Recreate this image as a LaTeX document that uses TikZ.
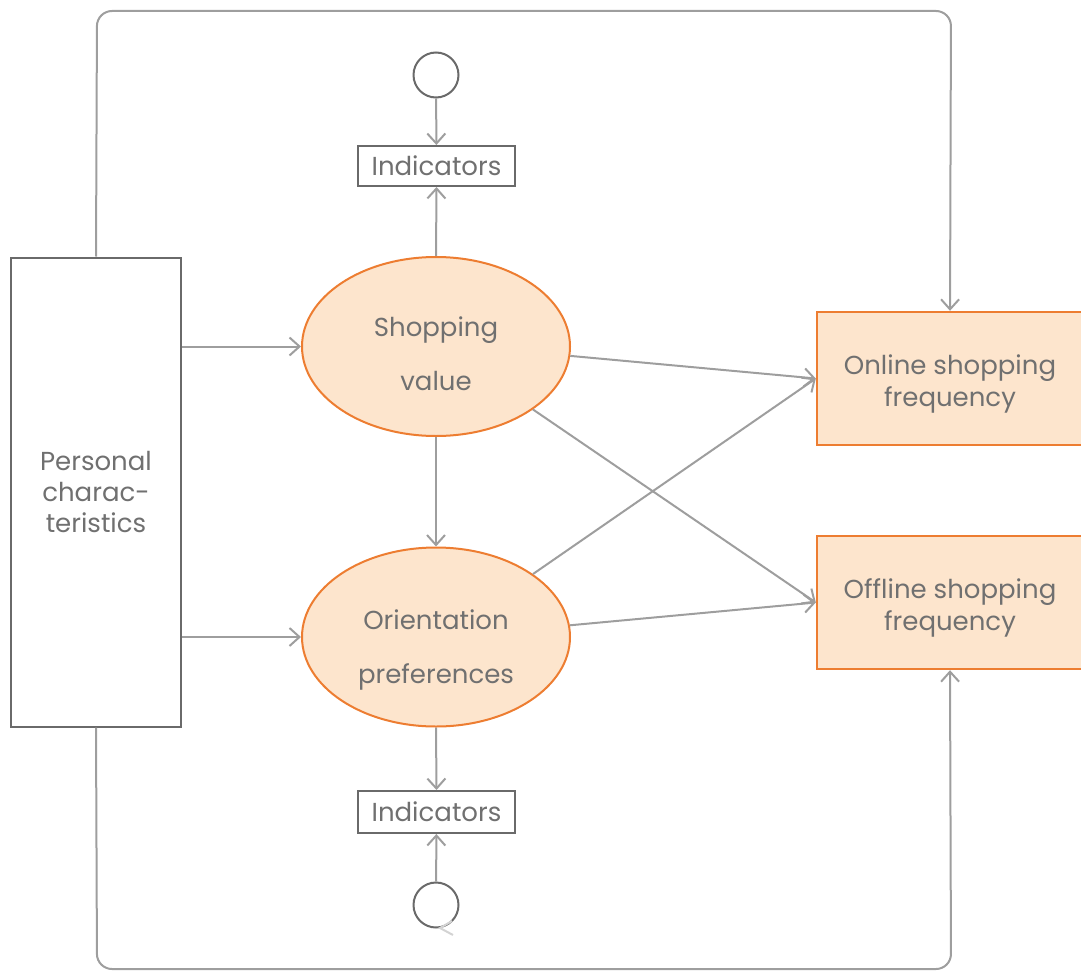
\documentclass[tikz,border=0pt]{standalone}
\usepackage{fontspec}
\setmainfont{Poppins}
\usetikzlibrary{arrows.meta,shapes.geometric}
\definecolor{txt}{HTML}{707070}
\definecolor{ln}{HTML}{9E9E9E}
\definecolor{dk}{HTML}{6A6A6A}
\definecolor{org}{HTML}{ED7D31}
\definecolor{pch}{HTML}{FDE5CD}
\tikzset{
  tip/.tip={Straight Barb[length=10pt,width=18pt,line width=2pt]},
  conn/.style={draw=ln,line width=2pt,-tip},
  frame/.style={draw=ln,line width=2pt,rounded corners=15pt,-tip},
  greybox/.style={draw=dk,line width=2pt,fill=white,inner sep=0pt,font=\fontsize{26}{31}\selectfont,text=txt,align=center},
  latent/.style={ellipse,draw=org,line width=2pt,fill=pch,minimum width=268pt,minimum height=179pt,inner sep=0pt},
  lattext/.style={text=txt,align=center,font=\fontsize{26}{54}\selectfont,yshift=-7pt},
  outbox/.style={draw=org,line width=2.4pt,fill=pch,minimum width=266pt,minimum height=133pt,inner sep=0pt},
  outtext/.style={text=txt,align=center,font=\fontsize{26}{32}\selectfont,yshift=-5pt},
  err/.style={circle,draw=dk,line width=2pt,minimum size=45pt,inner sep=0pt},
}
\begin{document}
\begin{tikzpicture}[x=1pt,y=-1pt]
\useasboundingbox (0,0) rectangle (1081,971);
% frame corners
\coordinate (ftl) at (97,11);
\coordinate (ftr) at (951,11);
\coordinate (fbl) at (97,969);
\coordinate (fbr) at (951,969);
% nodes
\node[outbox,label={[outtext]center:Online shopping\\frequency}] (on) at (950,378.5) {};
\node[outbox,label={[outtext]center:Offline shopping\\frequency}] (off) at (950,602.5) {};
\node[greybox,minimum width=170pt,minimum height=469pt] (pc) at (96,492) {Personal\\charac-\\teristics};
\node[latent,label={[lattext]center:Shopping\\value}] (sv) at (436,346.5) {};
\node[latent,label={[lattext,yshift=-6pt]center:Orientation\\preferences}] (op) at (436,637) {};
\node[greybox,minimum width=157pt,minimum height=40pt] (i1) at (436.5,166) {Indicators};
\node[greybox,minimum width=157pt,minimum height=42pt] (i2) at (436.5,812) {Indicators};
\node[err] (e1) at (436,75) {};
\node[err] (e2) at (436,905) {};
% connectors
\draw[frame] (pc.north) -- (ftl) -- (ftr) -- (on.north);
\draw[frame] (pc.south) -- (fbl) -- (fbr) -- (off.south);
\draw[conn] (e1) -- (i1);
\draw[conn] (e2) -- (i2);
\draw[conn] (sv.north) -- (i1.south);
\draw[conn] (op.south) -- (i2.north);
\draw[conn] (sv.south) -- (op.north);
\draw[conn] (pc.east |- sv.west) -- (sv.west);
\draw[conn] (pc.east |- op.west) -- (op.west);
\draw[conn] (sv.-4) -- (on.west);
\draw[conn] (sv.-33) -- (off.west);
\draw[conn] (op.33) -- (on.west);
\draw[conn] (op.5) -- (off.west);
% faint residual arrowhead at lower circle
\draw[draw=ln!45,line width=2pt] (452,921) -- (440,928) -- (453,935);
\end{tikzpicture}
\end{document}
